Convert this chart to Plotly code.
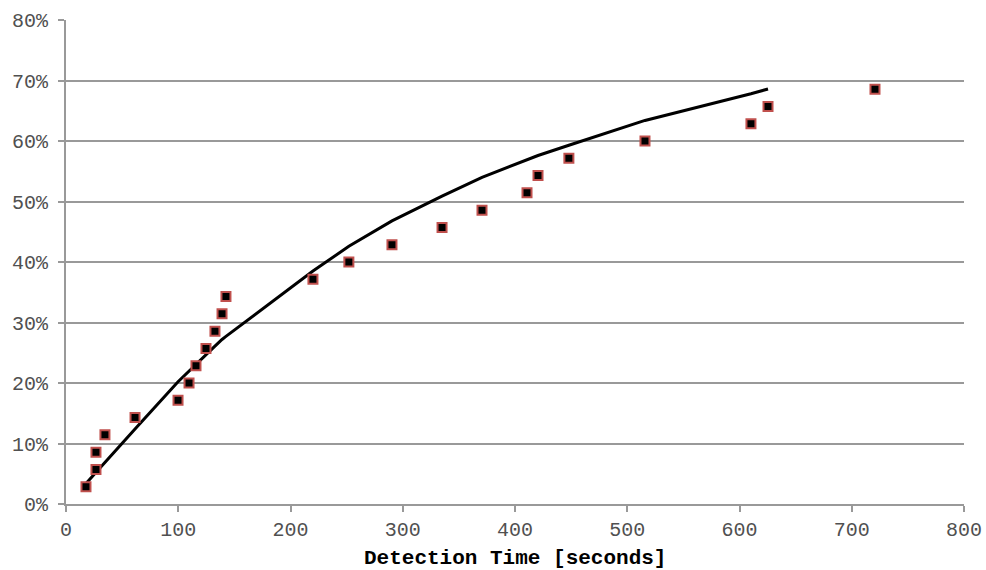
import plotly.graph_objects as go

# Observed detection times (seconds) and cumulative detection fraction (%)
det_time = [17.8, 26.7, 26.7, 34.7, 61.5, 99.8, 109.6, 115.8, 124.7, 132.7, 139.0, 142.5,
            220.0, 252.0, 290.4, 335.0, 370.6, 410.7, 420.5, 448.0, 515.8, 610.2, 625.4, 720.7]
det_pct = [2.86, 5.71, 8.57, 11.43, 14.29, 17.14, 20.00, 22.86, 25.71, 28.57, 31.43, 34.29,
           37.14, 40.00, 42.86, 45.71, 48.57, 51.43, 54.29, 57.14, 60.00, 62.86, 65.71, 68.57]

# Model curve
model_time = [17.8, 26.7, 34.7, 61.5, 99.8, 109.6, 115.8, 124.7, 132.7, 139.0, 142.5,
              220.0, 252.0, 290.4, 335.0, 370.6, 410.7, 420.5, 448.0, 515.8, 610.2, 625.4]
model_pct = [3.4, 5.2, 6.9, 12.4, 20.2, 22.0, 23.1, 24.7, 26.1, 27.2, 27.7,
             38.5, 42.6, 46.8, 50.9, 54.0, 56.9, 57.6, 59.3, 63.4, 67.8, 68.6]

x_ticks = [0, 100, 200, 300, 400, 500, 600, 700, 800]
y_ticks = [0, 10, 20, 30, 40, 50, 60, 70, 80]
y_tick_text = [f"{v}%" for v in y_ticks]
x_title = "Detection Time [seconds]"

FONT = "Liberation Mono, Courier New, monospace"

fig = go.Figure()
fig.add_trace(go.Scatter(x=model_time, y=model_pct, mode="lines",
                         line=dict(color="black", width=3), showlegend=False,
                         hoverinfo="skip"))
fig.add_trace(go.Scatter(x=det_time, y=det_pct, mode="markers",
                         marker=dict(symbol="square", size=9, color="black",
                                     line=dict(color="#c0504d", width=2)),
                         showlegend=False))

fig.add_annotation(text=f"<b>{x_title}</b>", xref="paper", yref="paper",
                   x=0.5, y=0, xanchor="center", yanchor="middle",
                   yshift=-54, showarrow=False,
                   font=dict(family=FONT, size=21, color="black"))

fig.update_layout(
    width=986, height=570,
    margin=dict(l=66, r=22, t=20, b=66),
    plot_bgcolor="white", paper_bgcolor="white",
    font=dict(family=FONT, size=20, color="#505050"),
    xaxis=dict(range=[0, 800], tickvals=x_ticks, showgrid=False,
               showline=True, linecolor="#999999", linewidth=2,
               ticks="outside", ticklen=6, tickcolor="#999999", tickwidth=2,
               zeroline=False, automargin=False, ticklabeloverflow="allow"),
    yaxis=dict(range=[0, 80], tickvals=y_ticks, ticktext=y_tick_text,
               showgrid=True, gridcolor="#999999", gridwidth=2,
               showline=True, linecolor="#999999", linewidth=2,
               ticks="outside", ticklen=6, tickcolor="#999999", tickwidth=2,
               ticklabelstandoff=6, automargin=False,
               zeroline=False),
)

fig.write_html("out.html", config={"displayModeBar": False},
               post_script="document.body.style.margin='0';document.body.style.overflow='hidden';")
